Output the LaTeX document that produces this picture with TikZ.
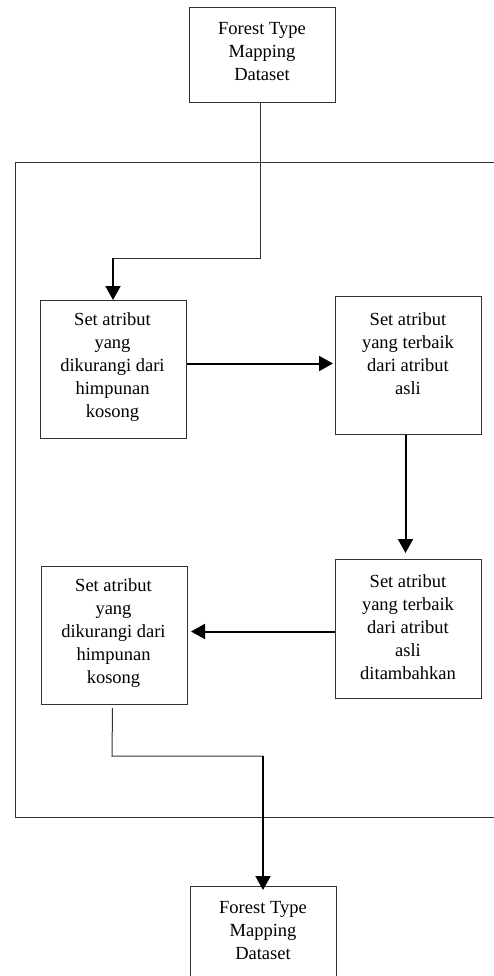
\documentclass[tikz,border=0pt]{standalone}
\usepackage{fontspec}
\setmainfont{Liberation Serif}
\usetikzlibrary{arrows.meta}
\begin{document}
\begin{tikzpicture}[x=1pt,y=-1pt,
  box/.style={draw=black!80, line width=1pt, inner sep=0pt, anchor=north west, minimum width=146pt},
  txt/.style={align=center, inner sep=0pt, font=\fontsize{18.5}{23}\selectfont},
  thinline/.style={draw=black!80, line width=1pt},
  thickarrow/.style={draw=black, line width=2pt, -{Triangle[width=15pt,length=14pt]}}]
\useasboundingbox (0,0) rectangle (494,976);
\clip (0,0) rectangle (494,976);
\fill[white] (0,0) rectangle (494,976);
% outer frame (right side runs off the page)
\draw[thinline] (500,163) -- (15.5,163) -- (15.5,817) -- (500,817);
% boxes
\node[box, minimum height=95pt]  (b0) at (189,7) {};
\node[box, minimum height=138pt] (b1) at (40,300) {};
\node[box, minimum height=138pt] (b2) at (335,296) {};
\node[box, minimum height=139pt] (b3) at (335,559) {};
\node[box, minimum height=138pt] (b4) at (41,566) {};
\node[box, minimum height=138pt] (b5) at (190,886) {};
% texts
\node[txt] (t0) at (262,52) {Forest Type\\Mapping\\Dataset};
\node[txt] (t1) at (112.5,367.5) {Set atribut\\yang\\dikurangi dari\\himpunan\\kosong};
\node[txt] (t2) at (408,354) {Set atribut\\yang terbaik\\dari atribut\\asli};
\node[txt] (t3) at (408,627) {Set atribut\\yang terbaik\\dari atribut\\asli\\ditambahkan};
\node[txt] (t4) at (113.5,633.5) {Set atribut\\yang\\dikurangi dari\\himpunan\\kosong};
\node[txt] (t5) at (263,931) {Forest Type\\Mapping\\Dataset};
% connectors
\coordinate (c0) at (260,258);
\coordinate (c1) at (113,258);
\draw[thinline] (b0.south -| c0) -- (c0) -- (c1);
\draw[thickarrow] (c1) -- (c1 |- b1.north);
\draw[thickarrow, shorten >=2pt] ([yshift=6pt]b1.east) -- ([yshift=6pt]b1.east -| b2.west);
\draw[thickarrow, shorten >=6pt] ([xshift=-3pt]b2.south) -- ([xshift=-3pt]b2.south |- b3.north);
\draw[thickarrow, shorten >=3pt] ([yshift=-2.5pt]b3.west) -- ([yshift=-2.5pt]b3.west -| b4.east);
\coordinate (c2) at (112,756);
\coordinate (c3) at (263,756);
\draw[thinline] ([xshift=-2pt,yshift=-3pt]b4.south) -- (c2) -- (c3);
\draw[thickarrow, shorten >=-4pt] (c3) -- (c3 |- b5.north);
\end{tikzpicture}
\end{document}
